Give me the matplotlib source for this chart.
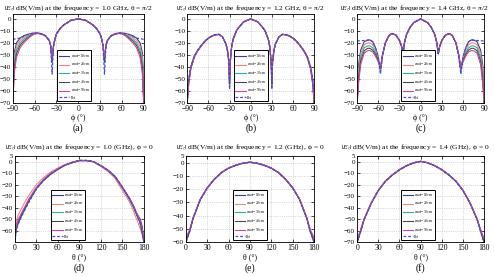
import matplotlib
matplotlib.use('Agg')
import matplotlib.pyplot as plt

plt.rcParams['font.family'] = ['Liberation Serif', 'DejaVu Serif']
plt.rcParams['mathtext.fontset'] = 'stix'

labels = [r'$s_{\mathrm{mesh}}$=10cm', r'$s_{\mathrm{mesh}}$=20cm', r'$s_{\mathrm{mesh}}$=30cm',
          r'$s_{\mathrm{mesh}}$=40cm', r'$s_{\mathrm{mesh}}$=50cm', 'Ref']
colors = ['#3d3a8c', '#f08585', '#2fb38f', '#4a4a4a', '#d0449c', '#4a4ad0']

# (a) phi cut, 1.0 GHz
phi_a = [-90, -89, -88, -85, -80, -75, -70, -65, -60, -55, -50, -45, -40, -38, -36, -34, -32, -30, -25, -20, -10, 0,
         10, 20, 25, 30, 32, 34, 36, 38, 40, 45, 50, 55, 60, 65, 70, 75, 80, 85, 88, 89, 90]
a_10 = [-70, -40, -28, -20, -16, -14, -13, -12.2, -11.7, -11.8, -12.5, -14, -18, -22, -36, -22, -16.5, -12.5, -8, -5, -1.2, 0,
        -1.2, -5, -8, -12.5, -16.5, -22, -36, -22, -18, -14, -12.5, -11.8, -11.7, -12.2, -13, -14, -16, -20, -28, -40, -70]
a_20 = [-70, -45, -32, -23, -18, -15.5, -14, -12.7, -11.9, -11.9, -12.6, -14.1, -18, -22, -33, -22, -16.5, -12.5, -8, -5, -1.2, 0,
        -1.2, -5, -8, -12.5, -16.5, -22, -33, -22, -18, -14.1, -12.6, -11.9, -11.9, -12.7, -14, -15.5, -18, -23, -32, -45, -70]
a_30 = [-70, -50, -36, -26, -20, -17, -15, -13.2, -12.1, -12, -12.7, -14.2, -18, -22, -34, -22, -16.5, -12.5, -8, -5, -1.2, 0,
        -1.2, -5, -8, -12.5, -16.5, -22, -34, -22, -18, -14.2, -12.7, -12, -12.1, -13.2, -15, -17, -20, -26, -36, -50, -70]
a_40 = [-70, -55, -40, -29, -22, -18.5, -16, -13.7, -12.3, -12.1, -12.8, -14.3, -18, -22, -35, -22, -16.5, -12.5, -8, -5, -1.2, 0,
        -1.2, -5, -8, -12.5, -16.5, -22, -35, -22, -18, -14.3, -12.8, -12.1, -12.3, -13.7, -16, -18.5, -22, -29, -40, -55, -70]
a_50 = [-70, -58, -45, -32, -24, -20, -17, -14.2, -12.5, -12.2, -12.9, -14.4, -18, -22, -32, -22, -16.5, -12.5, -8, -5, -1.2, 0,
        -1.2, -5, -8, -12.5, -16.5, -22, -32, -22, -18, -14.4, -12.9, -12.2, -12.5, -14.2, -17, -20, -24, -32, -45, -58, -70]
a_ref = [-17, -16.9, -16.8, -16.5, -16, -14.5, -13, -12.2, -11.7, -11.8, -12.5, -14, -18, -23, -46, -23, -16.5, -12.5, -8, -5, -1.2, 0,
         -1.2, -5, -8, -12.5, -16.5, -23, -46, -23, -18, -14, -12.5, -11.8, -11.7, -12.2, -13, -14.5, -16, -16.5, -16.8, -16.9, -17]

# (b) phi cut, 1.2 GHz
phi_b = [-90, -89, -88, -85, -80, -75, -70, -65, -60, -55, -50, -45, -40, -35, -33, -31, -30, -29, -27, -25, -20, -15, -10, 0,
         10, 15, 20, 25, 27, 29, 30, 31, 33, 35, 40, 45, 50, 55, 60, 65, 70, 75, 80, 85, 88, 89, 90]
b_10 = [-70, -58, -51, -40, -31, -26, -22, -18.5, -16, -14.2, -13.1, -12.8, -15, -21, -26, -36, -58, -36, -23, -17, -9.5, -5.8, -2.5, 0,
        -2.5, -5.8, -9.5, -17, -23, -36, -58, -36, -26, -21, -15, -12.8, -13.1, -14.2, -16, -18.5, -22, -26, -31, -40, -51, -58, -70]
b_20 = [-70, -60, -52, -40.5, -31.3, -26.2, -22.2, -18.6, -16.1, -14.3, -13.2, -12.9, -15, -21, -26, -36, -55, -36, -23, -17, -9.5, -5.8, -2.5, 0,
        -2.5, -5.8, -9.5, -17, -23, -36, -55, -36, -26, -21, -15, -12.9, -13.2, -14.3, -16.1, -18.6, -22.2, -26.2, -31.3, -40.5, -52, -60, -70]
b_30 = [-70, -61, -53, -41, -31.5, -26.3, -22.3, -18.7, -16.1, -14.3, -13.2, -12.9, -15, -21, -26, -35, -52, -35, -23, -17, -9.5, -5.8, -2.5, 0,
        -2.5, -5.8, -9.5, -17, -23, -35, -52, -35, -26, -21, -15, -12.9, -13.2, -14.3, -16.1, -18.7, -22.3, -26.3, -31.5, -41, -53, -61, -70]
b_40 = [-70, -62, -54, -41.5, -31.7, -26.4, -22.4, -18.8, -16.2, -14.4, -13.3, -13, -15, -21, -26, -35.5, -54, -35.5, -23, -17, -9.5, -5.8, -2.5, 0,
        -2.5, -5.8, -9.5, -17, -23, -35.5, -54, -35.5, -26, -21, -15, -13, -13.3, -14.4, -16.2, -18.8, -22.4, -26.4, -31.7, -41.5, -54, -62, -70]
b_50 = [-70, -63, -55, -42, -32, -26.5, -22.5, -18.9, -16.3, -14.5, -13.4, -13, -15, -21, -26, -35, -50, -35, -23, -17, -9.5, -5.8, -2.5, 0,
        -2.5, -5.8, -9.5, -17, -23, -35, -50, -35, -26, -21, -15, -13, -13.4, -14.5, -16.3, -18.9, -22.5, -26.5, -32, -42, -55, -63, -70]
b_ref = [-60, -57, -51, -40, -31, -26, -22, -18.5, -16, -14.2, -13.1, -12.8, -15, -21, -26, -36, -57, -36, -23, -17, -9.5, -5.8, -2.5, 0,
         -2.5, -5.8, -9.5, -17, -23, -36, -57, -36, -26, -21, -15, -12.8, -13.1, -14.2, -16, -18.5, -22, -26, -31, -40, -51, -57, -60]

# (c) phi cut, 1.4 GHz
phi_c = [-90, -89, -88, -85, -80, -75, -72, -68, -64, -60, -57, -54, -50, -45, -41, -35, -30, -27, -25, -23, -20, -15, -10, 0,
         10, 15, 20, 23, 25, 27, 30, 35, 41, 45, 50, 54, 57, 60, 64, 68, 72, 75, 80, 85, 88, 89, 90]
c_10 = [-70, -50, -38, -26, -19, -17.6, -17.5, -19, -24, -32, -44, -30, -20, -14, -12.2, -13.5, -18, -23, -29, -20, -13, -7, -3.2, 0,
        -3.2, -7, -13, -20, -29, -23, -18, -13.5, -12.2, -14, -20, -30, -44, -32, -24, -19, -17.5, -17.6, -19, -26, -38, -50, -70]
c_20 = [-70, -55, -42, -29, -21.5, -20, -20, -21.5, -26, -33, -43, -30, -20, -14, -12.2, -13.5, -18, -23, -29, -20, -13, -7, -3.2, 0,
        -3.2, -7, -13, -20, -29, -23, -18, -13.5, -12.2, -14, -20, -30, -43, -33, -26, -21.5, -20, -20, -21.5, -29, -42, -55, -70]
c_30 = [-70, -58, -46, -32, -24, -22.5, -22.5, -24, -28, -34, -42, -30, -20, -14, -12.2, -13.5, -18, -23, -29, -20, -13, -7, -3.2, 0,
        -3.2, -7, -13, -20, -29, -23, -18, -13.5, -12.2, -14, -20, -30, -42, -34, -28, -24, -22.5, -22.5, -24, -32, -46, -58, -70]
c_40 = [-70, -60, -50, -35, -26.5, -24.5, -24.5, -26, -29.5, -35, -41, -30, -20, -14, -12.2, -13.5, -18, -23, -29, -20, -13, -7, -3.2, 0,
        -3.2, -7, -13, -20, -29, -23, -18, -13.5, -12.2, -14, -20, -30, -41, -35, -29.5, -26, -24.5, -24.5, -26.5, -35, -50, -60, -70]
c_50 = [-70, -62, -54, -38, -28.5, -26.5, -26.4, -27.5, -31, -36, -40, -30, -20, -14, -12.2, -13.5, -18, -23, -29, -20, -13, -7, -3.2, 0,
        -3.2, -7, -13, -20, -29, -23, -18, -13.5, -12.2, -14, -20, -30, -40, -36, -31, -27.5, -26.4, -26.5, -28.5, -38, -54, -62, -70]
c_ref = [-18.3, -18.3, -18.3, -18.2, -18, -17.7, -17.6, -19, -24, -32, -46, -30, -20, -14, -12.2, -13.5, -18, -23, -29, -20, -13, -7, -3.2, 0,
         -3.2, -7, -13, -20, -29, -23, -18, -13.5, -12.2, -14, -20, -32, -46, -32, -24, -19, -17.6, -17.7, -18, -18.2, -18.3, -18.3, -18.3]

# (d)-(f) theta cuts
theta = [0, 2, 5, 10, 15, 20, 30, 40, 50, 60, 70, 80, 90, 100, 110, 120, 130, 140, 150, 160, 165, 170, 175, 178, 180]
d_10 = [-68, -55, -52, -45, -39, -33, -23, -16, -10.5, -6.5, -3, -0.8, 1, 1, 0, -3.5, -7.5, -13, -22, -32, -38, -45, -50, -57, -68]
d_20 = [-66, -52, -46, -40, -34, -29, -20, -14, -9, -5.5, -2.5, -0.5, 1, 1, -0.3, -4, -8.5, -14.5, -25, -35, -42, -50, -58, -64, -70]
d_30 = [-69, -58, -53, -45.5, -39.5, -33.5, -23.5, -16, -10.5, -6.5, -3, -0.8, 1, 1, 0, -3.5, -7.5, -13, -22.5, -32.5, -38.5, -45.5, -53, -61, -69]
d_40 = [-69, -59, -53, -46, -40, -34, -23.5, -16.5, -11, -6.8, -3.2, -1, 0.8, 0.9, -0.1, -3.6, -7.6, -13.2, -22.5, -32.5, -38.5, -46, -53, -62, -69]
d_50 = [-67, -55, -50, -44, -38, -32, -22.5, -15.5, -10, -6.2, -2.8, -0.6, 1.1, 1, 0, -3.3, -7.3, -12.7, -22, -31.5, -37.5, -44.5, -51, -59, -67]
d_ref = [-70, -60, -54, -47, -41, -35, -24, -16.5, -10.8, -6.6, -3, -0.6, 1.2, 1.2, 0.2, -3.2, -7.3, -12.8, -22, -32, -38, -46, -54, -62, -70]

e_10 = [-60, -56, -52, -42, -35, -28, -19, -12.5, -7.5, -4.2, -2, -0.5, 0.3, -0.5, -2, -4.2, -7.5, -12.5, -19, -28, -35, -42, -52, -56, -60]
e_20 = [-58, -55, -51.5, -41.8, -34.8, -27.8, -18.9, -12.4, -7.4, -4.1, -1.9, -0.4, 0.4, -0.4, -1.9, -4.1, -7.4, -12.4, -18.9, -27.8, -34.8, -41.8, -51.5, -55, -58]
e_30 = [-59, -55.5, -51.8, -42, -35, -28, -19, -12.5, -7.5, -4.2, -2, -0.5, 0.3, -0.5, -2, -4.2, -7.5, -12.5, -19, -28, -35, -42, -51.8, -55.5, -59]
e_40 = [-60, -56.5, -52.3, -42.2, -35.2, -28.1, -19.1, -12.6, -7.6, -4.3, -2.1, -0.6, 0.2, -0.6, -2.1, -4.3, -7.6, -12.6, -19.1, -28.1, -35.2, -42.2, -52.3, -56.5, -60]
e_50 = [-57, -54, -51, -41.6, -34.7, -27.7, -18.8, -12.3, -7.3, -4, -1.8, -0.4, 0.4, -0.4, -1.8, -4, -7.3, -12.3, -18.8, -27.7, -34.7, -41.6, -51, -54, -57]
e_ref = [-60, -57, -52.5, -42.3, -35.3, -28.2, -19.2, -12.6, -7.6, -4.3, -2.1, -0.6, 0.2, -0.6, -2.1, -4.3, -7.6, -12.6, -19.2, -28.2, -35.3, -42.3, -52.5, -57, -60]

f_10 = [-70, -66, -60, -50, -43, -36, -25, -17, -11.5, -7, -3.5, -1, 0.3, -1, -3.5, -7, -11.5, -17, -25, -36, -43, -50, -60, -66, -70]
f_20 = [-68, -65, -59.5, -49.8, -42.8, -35.8, -24.9, -16.9, -11.4, -6.9, -3.4, -0.9, 0.4, -0.9, -3.4, -6.9, -11.4, -16.9, -24.9, -35.8, -42.8, -49.8, -59.5, -65, -68]
f_30 = [-69, -65.5, -59.8, -50, -43, -36, -25, -17, -11.5, -7, -3.5, -1, 0.3, -1, -3.5, -7, -11.5, -17, -25, -36, -43, -50, -59.8, -65.5, -69]
f_40 = [-70, -66.5, -60.3, -50.2, -43.2, -36.1, -25.1, -17.1, -11.6, -7.1, -3.6, -1.1, 0.2, -1.1, -3.6, -7.1, -11.6, -17.1, -25.1, -36.1, -43.2, -50.2, -60.3, -66.5, -70]
f_50 = [-67, -64, -59, -49.6, -42.7, -35.7, -24.8, -16.8, -11.3, -6.8, -3.3, -0.8, 0.4, -0.8, -3.3, -6.8, -11.3, -16.8, -24.8, -35.7, -42.7, -49.6, -59, -64, -67]
f_ref = [-70, -67, -61, -50.3, -43.3, -36.2, -25.2, -17.2, -11.6, -7.1, -3.6, -1.1, 0.2, -1.1, -3.6, -7.1, -11.6, -17.2, -25.2, -36.2, -43.3, -50.3, -61, -67, -70]


def draw_panel(ax, x, series, xticks, xlim, yticks, ylim, title, xlabel, leg_x, title_pad, title_x=0.5):
    for i, y in enumerate(series):
        if i == len(series) - 1:
            ax.plot(x, y, color=colors[i], linestyle='--', linewidth=0.9, dashes=(2.2, 1.5))
        else:
            ax.plot(x, y, color=colors[i], linewidth=0.8)
    ax.set_xlim(xlim)
    ax.set_ylim(ylim)
    ax.set_xticks(xticks)
    ax.set_yticks(yticks)
    ax.grid(True, linestyle=':', color='#b8b8b8', linewidth=0.5)
    ax.tick_params(direction='in', length=2, width=0.5, labelsize=5.5, pad=1.5, top=True, right=True)
    ax.tick_params(axis='y', labelsize=5.0)
    for sp in ax.spines.values():
        sp.set_linewidth(0.6)
    ax.set_title(title, fontsize=5.4, pad=title_pad, x=title_x)
    ax.set_xlabel(xlabel, fontsize=5.6, labelpad=0.5)
    leg = ax.legend(labels, loc='lower center', bbox_to_anchor=(leg_x, 0.0), fontsize=2.6,
                    handlelength=2.8, borderpad=0.45, labelspacing=0.3, handletextpad=0.4,
                    fancybox=False, framealpha=1, edgecolor='black')
    leg.get_frame().set_linewidth(0.7)


def main():
    fig = plt.figure(figsize=(4.94, 2.76), dpi=100)

    top = [0.026, 0.379, 0.723]
    top_w = [0.265, 0.257, 0.257]
    bot = [0.030, 0.3765, 0.723]
    bot_w = [0.261, 0.259, 0.257]

    phi_ticks = [-90, -60, -30, 0, 30, 60, 90]
    th_ticks = [0, 30, 60, 90, 120, 150, 180]
    phi_lab = 'ϕ (°)'
    th_lab = 'θ (°)'

    ax = fig.add_axes([top[0], 0.627, top_w[0], 0.322])
    draw_panel(ax, phi_a, [a_10, a_20, a_30, a_40, a_50, a_ref], phi_ticks, (-90, 90),
               list(range(0, -80, -10)), (-70, 4),
               r'$|E_z|$ dB(V/m) at the frequency = 1.0 GHz, θ = π/2', phi_lab, 0.47, 3)
    ax = fig.add_axes([top[1], 0.627, top_w[1], 0.322])
    draw_panel(ax, phi_b, [b_10, b_20, b_30, b_40, b_50, b_ref], phi_ticks, (-90, 90),
               list(range(0, -80, -10)), (-70, 4),
               r'$|E_z|$ dB(V/m) at the frequency = 1.2 GHz, θ = π/2', phi_lab, 0.5, 3)
    ax = fig.add_axes([top[2], 0.627, top_w[2], 0.322])
    draw_panel(ax, phi_c, [c_10, c_20, c_30, c_40, c_50, c_ref], phi_ticks, (-90, 90),
               list(range(0, -80, -10)), (-70, 4),
               r'$|E_z|$ dB(V/m) at the frequency = 1.4 GHz, θ = π/2', phi_lab, 0.48, 3, 0.45)

    ax = fig.add_axes([bot[0], 0.123, bot_w[0], 0.312])
    draw_panel(ax, theta, [d_10, d_20, d_30, d_40, d_50, d_ref], th_ticks, (0, 180),
               [5] + list(range(0, -70, -10)), (-70, 5),
               r'$|E_z|$ dB(V/m) at the frequency = 1.0 (GHz), ϕ = 0', th_lab, 0.41, 5)
    ax = fig.add_axes([bot[1], 0.123, bot_w[1], 0.312])
    draw_panel(ax, theta, [e_10, e_20, e_30, e_40, e_50, e_ref], th_ticks, (0, 180),
               [5] + list(range(0, -70, -10)), (-60, 5),
               r'$|E_z|$ dB(V/m) at the frequency = 1.2 (GHz), ϕ = 0', th_lab, 0.5, 5)
    ax = fig.add_axes([bot[2], 0.123, bot_w[2], 0.312])
    draw_panel(ax, theta, [f_10, f_20, f_30, f_40, f_50, f_ref], th_ticks, (0, 180),
               [5] + list(range(0, -80, -10)), (-70, 5),
               r'$|E_z|$ dB(V/m) at the frequency = 1.4 (GHz), ϕ = 0', th_lab, 0.48, 5, 0.46)

    for i, name in enumerate(['(a)', '(b)', '(c)']):
        fig.text(top[i] + top_w[i] / 2, 0.535, name, ha='center', va='center', fontsize=7)
    for i, name in enumerate(['(d)', '(e)', '(f)']):
        fig.text(bot[i] + bot_w[i] / 2, 0.03, name, ha='center', va='center', fontsize=7)

    fig.savefig('out.png', dpi=100)


if __name__ == '__main__':
    main()
